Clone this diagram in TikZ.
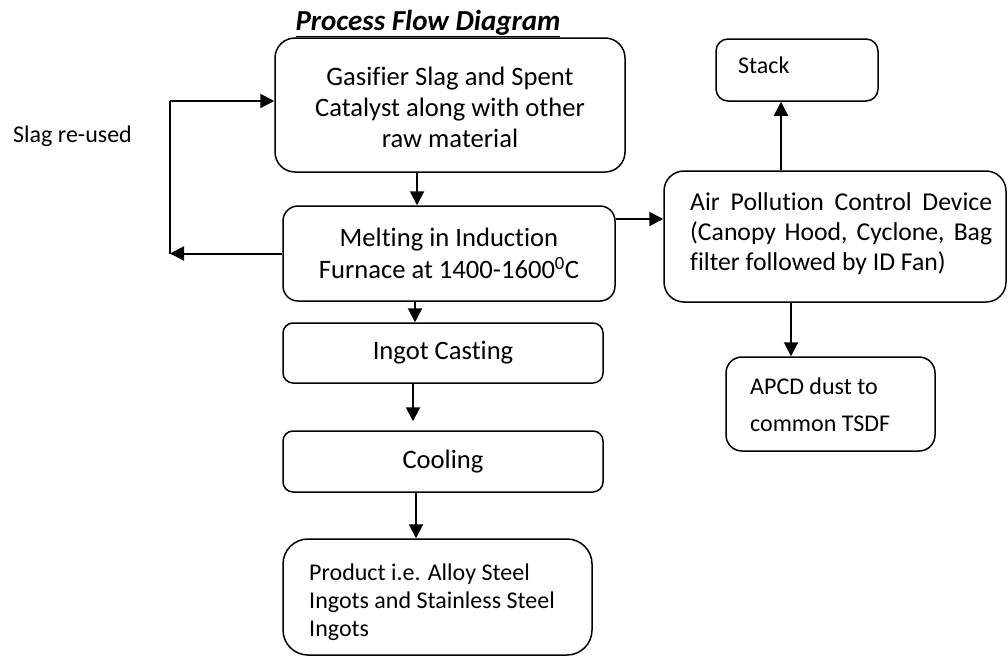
\documentclass[tikz,border=0pt]{standalone}
\usepackage{fontspec}
\setmainfont{Carlito}[Ligatures=NoCommon]
\usetikzlibrary{arrows.meta}
\begin{document}
\begin{tikzpicture}[x=1pt,y=-1pt,
  rbox/.style={draw, line width=1.5pt, rounded corners=#1, inner sep=0pt},
  rbox/.default=15pt,
  txt/.style={inner sep=0pt, font=\fontsize{24}{31}\selectfont},
  big/.style={font=\fontsize{26.6}{31}\selectfont},
  arr/.style={line width=2pt, -{Triangle[length=14pt, width=14pt]}},
  ln/.style={line width=2pt}]
\useasboundingbox (0,0) rectangle (1008,656);

% title
\node[txt, anchor=base, font=\fontsize{29}{32}\selectfont\bfseries\itshape] (title) at (428,30) {\underline{Process Flow Diagram}};

% main column
\node[rbox=20pt, txt, big, minimum width=350pt, minimum height=134pt, align=center] (feed) at (450,105)
  {\rule{0pt}{24pt}Gasifier Slag and Spent\\Catalyst along with other\\raw material};
\node[rbox=15pt, txt, minimum width=332pt, minimum height=95pt, align=center, font=\fontsize{26.6}{32}\selectfont] (melt) at (449,253.5)
  {Melting in Induction\\Furnace at 1400-1600\textsuperscript{0}C};
\node[rbox=10pt, txt, big, minimum width=320pt, minimum height=60pt] (cast) at (443,353) {Ingot Casting};
\node[rbox=10pt, txt, big, minimum width=320pt, minimum height=61pt] (cool) at (443,461.5) {Cooling};
\node[rbox=25pt, minimum width=309pt, minimum height=116pt] (prod) at (437.5,597) {};
\node[txt, anchor=west, align=left, font=\fontsize{24}{28}\selectfont] (prodtxt) at (309,602)
  {Product i.e. Alloy Steel\\Ingots and Stainless Steel\\Ingots};

% right column
\node[rbox=12pt, minimum width=162pt, minimum height=62pt] (stack) at (797,70) {};
\node[txt, anchor=base west] (stacktxt) at (738,73) {Stack};
\node[rbox=20pt, minimum width=342pt, minimum height=131pt] (apcd) at (835,236.5) {};
\node[txt, anchor=west, align=left, font=\fontsize{25.7}{30}\selectfont] (apcdtxt) at (690,234)
  {\makebox[302pt][s]{Air Pollution Control Device}\\\makebox[302pt][s]{(Canopy Hood, Cyclone, Bag}\\filter followed by ID Fan)};
\node[rbox=16pt, minimum width=209pt, minimum height=94pt] (dust) at (830.5,404) {};
\node[txt, anchor=west, align=left, font=\fontsize{24}{37}\selectfont] (dusttxt) at (750,405)
  {APCD dust to\\common TSDF};

% slag label
\node[txt, anchor=base west] (slag) at (13,142) {Slag re-used};

% connectors main column
\draw[arr] ([xshift=-33pt]feed.south) -- ([xshift=-32pt]melt.north);
\draw[arr] ([xshift=-34pt]melt.south) -- ([xshift=-28pt]cast.north);
\draw[arr] ([xshift=-30pt]cast.south) -- ([xshift=-30pt,yshift=9pt]cool.north);
\draw[arr] ([xshift=-27pt]cool.south) -- ([xshift=-21.5pt]prod.north);

% to APCD
\draw[arr] ([yshift=34.5pt]melt.east) -- ([yshift=34.5pt]melt.east -| apcd.west);
\path ([xshift=-16pt]stack.south) coordinate (s1);
\draw[arr] (s1 |- apcd.north) -- (s1);
\path ([xshift=-39.5pt]dust.north) coordinate (d1);
\draw[arr] (d1 |- apcd.south) -- (d1);

% slag loop
\coordinate (lb) at (170,253.5);
\coordinate (lt) at (170,101);
\draw[arr] (melt.west) -- (lb);
\draw[ln] (lb) -- (lt);
\draw[arr] (lt) -- (lt -| feed.west);
\end{tikzpicture}
\end{document}
